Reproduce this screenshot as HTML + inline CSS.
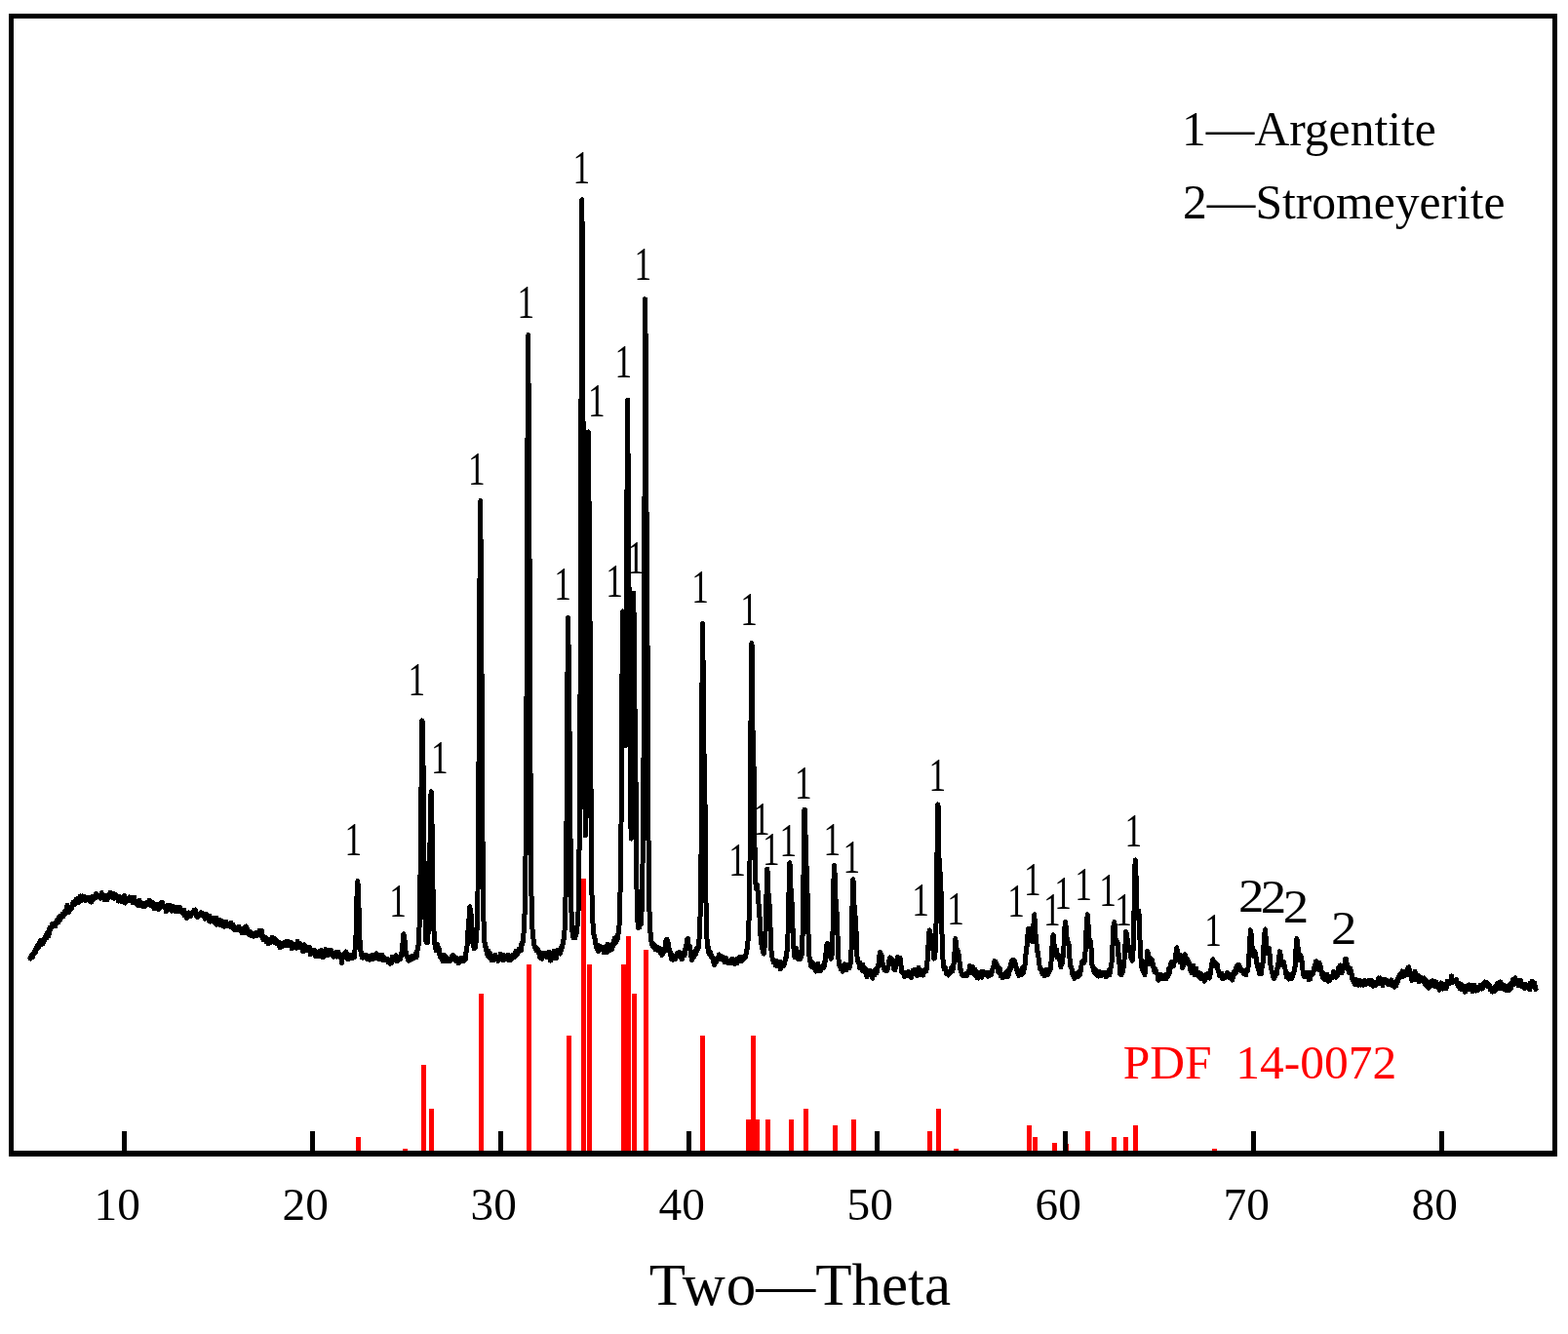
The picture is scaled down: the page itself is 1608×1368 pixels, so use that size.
<!DOCTYPE html>
<html lang="en"><head><meta charset="utf-8"><title>XRD pattern</title>
<style>html,body{margin:0;padding:0;background:#fff;}body{width:1608px;height:1368px;overflow:hidden;}svg{display:block;}text{font-family:"Liberation Serif",serif;white-space:pre;}.lb{font-size:49px;fill:#000;text-anchor:middle;}.tk{font-size:47.3px;fill:#000;text-anchor:middle;}</style></head><body>
<svg width="1608" height="1368" viewBox="0 0 1608 1368">
<rect x="0" y="0" width="1608" height="1368" fill="#fff"/>
<polyline points="31.0,982.4 31.4,983.0 31.8,981.8 32.2,980.2 32.5,980.6 32.9,979.5 33.3,980.5 33.7,981.8 34.1,978.3 34.5,977.2 34.9,977.8 35.2,977.0 35.6,976.2 36.0,974.6 36.4,976.0 36.8,976.5 37.2,972.2 37.6,973.1 37.9,970.5 38.3,970.8 38.7,969.0 39.1,971.8 39.5,969.1 39.9,970.8 40.3,970.3 40.6,969.2 41.0,964.8 41.4,967.9 41.8,968.6 42.2,968.7 42.6,964.8 43.0,966.3 43.4,965.4 43.7,964.9 44.1,967.6 44.5,964.1 44.9,964.3 45.3,964.9 45.7,962.1 46.1,961.1 46.4,961.3 46.8,961.3 47.2,959.3 47.6,960.8 48.0,961.8 48.4,956.4 48.8,959.0 49.1,957.3 49.5,956.2 49.9,959.6 50.3,956.7 50.7,951.5 51.1,953.2 51.5,953.6 51.8,951.1 52.2,952.2 52.6,950.1 53.0,951.4 53.4,951.0 53.8,947.1 54.2,949.7 54.5,948.3 54.9,949.2 55.3,947.3 55.7,947.5 56.1,947.9 56.5,948.8 56.9,949.7 57.2,946.0 57.6,945.8 58.0,947.5 58.4,943.3 58.8,944.7 59.2,944.8 59.6,946.1 59.9,944.3 60.3,942.2 60.7,940.5 61.1,940.6 61.5,943.4 61.9,939.5 62.3,939.7 62.7,941.0 63.0,940.3 63.4,939.6 63.8,937.6 64.2,939.3 64.6,937.5 65.0,939.7 65.4,938.6 65.7,937.0 66.1,937.4 66.5,934.7 66.9,937.2 67.3,934.6 67.7,935.2 68.1,931.9 68.4,933.8 68.8,929.5 69.2,928.3 69.6,931.3 70.0,930.3 70.4,932.0 70.8,935.5 71.1,930.3 71.5,930.9 71.9,931.6 72.3,932.4 72.7,931.1 73.1,930.3 73.5,931.4 73.8,930.1 74.2,927.2 74.6,928.3 75.0,928.1 75.4,925.1 75.8,926.2 76.2,924.6 76.5,927.4 76.9,926.0 77.3,925.9 77.7,924.5 78.1,925.3 78.5,921.9 78.9,923.7 79.2,925.9 79.6,921.6 80.0,925.7 80.4,922.0 80.8,925.4 81.2,923.4 81.6,924.6 82.0,922.2 82.3,919.0 82.7,923.0 83.1,923.8 83.5,921.2 83.9,920.3 84.3,921.0 84.7,918.9 85.0,922.4 85.4,919.9 85.8,922.1 86.2,920.0 86.6,920.1 87.0,919.6 87.4,923.7 87.7,920.7 88.1,922.5 88.5,921.8 88.9,921.7 89.3,920.8 89.7,921.7 90.1,922.7 90.4,921.8 90.8,922.2 91.2,920.6 91.6,920.7 92.0,924.3 92.4,920.8 92.8,920.8 93.1,922.6 93.5,925.1 93.9,919.6 94.3,921.2 94.7,920.3 95.1,919.2 95.5,922.9 95.8,921.6 96.2,921.0 96.6,919.3 97.0,919.4 97.4,918.5 97.8,918.5 98.2,917.3 98.5,916.6 98.9,920.4 99.3,917.3 99.7,918.8 100.1,918.8 100.5,919.0 100.9,918.5 101.3,919.9 101.6,918.8 102.0,919.6 102.4,920.5 102.8,921.1 103.2,919.8 103.6,918.2 104.0,916.2 104.3,915.6 104.7,920.2 105.1,919.9 105.5,918.2 105.9,919.3 106.3,920.5 106.7,921.5 107.0,922.7 107.4,920.1 107.8,922.6 108.2,918.7 108.6,921.9 109.0,921.2 109.4,921.3 109.7,922.9 110.1,922.6 110.5,918.3 110.9,918.1 111.3,920.9 111.7,917.2 112.1,918.2 112.4,918.8 112.8,915.6 113.2,915.4 113.6,917.9 114.0,918.1 114.4,918.3 114.8,919.8 115.1,919.1 115.5,918.2 115.9,920.7 116.3,918.5 116.7,916.7 117.1,921.3 117.5,919.6 117.8,919.7 118.2,917.5 118.6,917.8 119.0,917.9 119.4,919.0 119.8,921.1 120.2,919.5 120.6,920.7 120.9,921.3 121.3,924.1 121.7,919.3 122.1,923.6 122.5,922.0 122.9,921.8 123.3,920.5 123.6,922.4 124.0,924.1 124.4,922.4 124.8,923.3 125.2,922.8 125.6,924.3 126.0,922.7 126.3,919.9 126.7,922.1 127.1,919.8 127.5,918.2 127.9,923.0 128.3,926.1 128.7,923.8 129.0,921.7 129.4,921.9 129.8,923.9 130.2,922.0 130.6,922.2 131.0,922.3 131.4,922.0 131.7,922.7 132.1,922.0 132.5,921.4 132.9,920.0 133.3,923.1 133.7,921.5 134.1,924.1 134.4,920.3 134.8,921.9 135.2,922.1 135.6,920.3 136.0,925.9 136.4,925.3 136.8,922.5 137.1,924.7 137.5,924.7 137.9,920.3 138.3,925.9 138.7,925.7 139.1,926.1 139.5,924.2 139.9,925.3 140.2,925.7 140.6,928.1 141.0,927.1 141.4,926.2 141.8,927.8 142.2,924.6 142.6,925.0 142.9,923.2 143.3,928.6 143.7,927.5 144.1,927.3 144.5,926.4 144.9,925.7 145.3,927.2 145.6,927.2 146.0,927.7 146.4,927.8 146.8,929.9 147.2,928.8 147.6,927.6 148.0,927.1 148.3,926.9 148.7,929.7 149.1,927.4 149.5,926.6 149.9,926.5 150.3,925.9 150.7,926.7 151.0,927.8 151.4,925.1 151.8,925.3 152.2,925.6 152.6,926.4 153.0,923.4 153.4,925.1 153.7,923.7 154.1,926.6 154.5,923.9 154.9,926.3 155.3,928.8 155.7,925.2 156.1,925.2 156.4,927.3 156.8,926.9 157.2,925.7 157.6,928.4 158.0,931.5 158.4,928.6 158.8,928.1 159.2,927.9 159.5,930.1 159.9,927.2 160.3,927.7 160.7,931.5 161.1,928.6 161.5,931.3 161.9,931.9 162.2,930.1 162.6,929.8 163.0,932.5 163.4,928.6 163.8,927.5 164.2,926.5 164.6,927.8 164.9,930.2 165.3,928.6 165.7,925.2 166.1,925.7 166.5,925.5 166.9,927.7 167.3,927.7 167.6,928.8 168.0,930.1 168.4,929.4 168.8,931.0 169.2,931.6 169.6,931.1 170.0,932.6 170.3,934.8 170.7,932.6 171.1,931.7 171.5,929.2 171.9,932.2 172.3,928.1 172.7,928.8 173.0,932.8 173.4,931.7 173.8,930.7 174.2,928.5 174.6,930.0 175.0,929.3 175.4,931.5 175.7,934.3 176.1,931.9 176.5,930.5 176.9,929.5 177.3,930.6 177.7,930.5 178.1,929.6 178.5,932.2 178.8,930.3 179.2,934.2 179.6,933.7 180.0,933.8 180.4,932.5 180.8,934.6 181.2,933.2 181.5,932.9 181.9,932.1 182.3,930.6 182.7,930.5 183.1,934.4 183.5,932.1 183.9,932.3 184.2,933.4 184.6,930.1 185.0,932.0 185.4,934.5 185.8,934.8 186.2,933.4 186.6,935.9 186.9,935.6 187.3,934.0 187.7,934.4 188.1,937.3 188.5,937.1 188.9,933.1 189.3,938.6 189.6,938.5 190.0,939.3 190.4,937.0 190.8,937.9 191.2,936.4 191.6,941.6 192.0,936.7 192.3,939.8 192.7,936.9 193.1,938.3 193.5,936.0 193.9,937.6 194.3,939.5 194.7,936.3 195.0,939.8 195.4,939.9 195.8,937.2 196.2,937.8 196.6,937.1 197.0,937.2 197.4,935.6 197.8,935.2 198.1,935.9 198.5,934.8 198.9,933.3 199.3,935.3 199.7,936.6 200.1,932.9 200.5,936.9 200.8,937.2 201.2,936.7 201.6,939.3 202.0,937.5 202.4,940.4 202.8,937.7 203.2,940.0 203.5,939.0 203.9,937.2 204.3,938.9 204.7,936.8 205.1,939.0 205.5,937.5 205.9,935.9 206.2,937.1 206.6,937.2 207.0,938.9 207.4,936.5 207.8,938.4 208.2,936.6 208.6,940.2 208.9,938.6 209.3,937.3 209.7,940.4 210.1,942.3 210.5,937.6 210.9,938.0 211.3,938.4 211.6,938.1 212.0,941.0 212.4,937.9 212.8,938.9 213.2,941.8 213.6,940.6 214.0,943.7 214.3,941.7 214.7,941.0 215.1,939.4 215.5,945.2 215.9,943.3 216.3,944.0 216.7,942.7 217.1,942.9 217.4,941.4 217.8,944.3 218.2,941.1 218.6,941.8 219.0,942.5 219.4,942.5 219.8,946.1 220.1,946.2 220.5,942.5 220.9,943.2 221.3,945.0 221.7,948.3 222.1,941.1 222.5,946.6 222.8,942.8 223.2,947.2 223.6,944.2 224.0,946.6 224.4,943.5 224.8,945.1 225.2,948.4 225.5,947.2 225.9,945.3 226.3,945.7 226.7,943.9 227.1,946.6 227.5,948.1 227.9,949.0 228.2,948.4 228.6,946.3 229.0,947.3 229.4,947.0 229.8,949.5 230.2,950.2 230.6,946.8 230.9,945.3 231.3,945.8 231.7,945.2 232.1,945.5 232.5,948.1 232.9,946.7 233.3,949.3 233.6,949.0 234.0,949.9 234.4,949.5 234.8,948.9 235.2,948.0 235.6,949.3 236.0,948.6 236.4,950.4 236.7,949.5 237.1,946.5 237.5,949.4 237.9,947.8 238.3,949.7 238.7,950.5 239.1,948.2 239.4,952.0 239.8,952.5 240.2,952.5 240.6,953.4 241.0,953.3 241.4,952.0 241.8,952.6 242.1,952.8 242.5,953.1 242.9,951.0 243.3,953.3 243.7,952.9 244.1,952.4 244.5,951.6 244.8,952.9 245.2,950.5 245.6,953.7 246.0,954.1 246.4,954.6 246.8,954.7 247.2,954.4 247.5,954.4 247.9,956.6 248.3,956.2 248.7,955.2 249.1,953.0 249.5,956.0 249.9,956.7 250.2,956.9 250.6,953.9 251.0,950.7 251.4,953.8 251.8,953.1 252.2,949.9 252.6,954.6 252.9,951.4 253.3,952.4 253.7,953.0 254.1,957.2 254.5,954.3 254.9,956.6 255.3,958.6 255.7,958.9 256.0,957.1 256.4,957.3 256.8,955.4 257.2,956.8 257.6,958.7 258.0,959.5 258.4,958.7 258.7,959.7 259.1,957.1 259.5,958.2 259.9,959.6 260.3,960.3 260.7,960.1 261.1,958.9 261.4,958.7 261.8,959.6 262.2,957.1 262.6,956.5 263.0,960.0 263.4,958.6 263.8,958.8 264.1,956.0 264.5,957.8 264.9,956.8 265.3,956.5 265.7,954.6 266.1,957.0 266.5,958.5 266.8,958.3 267.2,956.6 267.6,958.4 268.0,960.2 268.4,954.3 268.8,958.2 269.2,959.7 269.5,960.9 269.9,963.5 270.3,962.4 270.7,961.7 271.1,961.0 271.5,962.5 271.9,961.0 272.2,962.8 272.6,964.8 273.0,965.9 273.4,962.4 273.8,962.6 274.2,962.7 274.6,965.6 275.0,964.9 275.3,967.9 275.7,963.9 276.1,964.5 276.5,965.2 276.9,966.0 277.3,966.7 277.7,963.0 278.0,963.1 278.4,964.1 278.8,962.8 279.2,961.3 279.6,965.6 280.0,963.9 280.4,964.1 280.7,963.3 281.1,965.9 281.5,964.7 281.9,966.4 282.3,962.7 282.7,963.3 283.1,964.7 283.4,964.0 283.8,967.5 284.2,967.4 284.6,965.2 285.0,966.6 285.4,966.5 285.8,969.7 286.1,966.6 286.5,967.4 286.9,970.3 287.3,971.9 287.7,970.7 288.1,968.2 288.5,968.6 288.8,971.2 289.2,968.1 289.6,967.4 290.0,969.3 290.4,970.2 290.8,968.1 291.2,966.8 291.5,967.0 291.9,970.0 292.3,966.5 292.7,966.8 293.1,966.9 293.5,967.5 293.9,965.2 294.3,966.6 294.6,965.3 295.0,966.0 295.4,965.2 295.8,969.4 296.2,967.3 296.6,966.0 297.0,967.3 297.3,968.4 297.7,970.1 298.1,966.1 298.5,966.7 298.9,968.1 299.3,972.6 299.7,970.8 300.0,969.7 300.4,970.2 300.8,971.6 301.2,968.0 301.6,968.2 302.0,970.8 302.4,969.5 302.7,969.3 303.1,968.1 303.5,971.8 303.9,972.1 304.3,970.0 304.7,969.3 305.1,965.1 305.4,970.3 305.8,969.0 306.2,970.0 306.6,970.6 307.0,969.4 307.4,967.2 307.8,971.6 308.1,970.6 308.5,971.6 308.9,971.2 309.3,972.0 309.7,969.2 310.1,974.5 310.5,972.6 310.8,973.9 311.2,975.5 311.6,971.7 312.0,968.9 312.4,970.2 312.8,970.0 313.2,971.5 313.6,972.8 313.9,970.8 314.3,974.8 314.7,971.5 315.1,975.0 315.5,974.9 315.9,975.0 316.3,975.1 316.6,974.1 317.0,973.6 317.4,971.5 317.8,974.5 318.2,978.7 318.6,978.3 319.0,977.0 319.3,975.9 319.7,974.0 320.1,977.5 320.5,975.4 320.9,975.5 321.3,975.6 321.7,974.6 322.0,975.3 322.4,975.3 322.8,974.3 323.2,976.1 323.6,980.9 324.0,977.8 324.4,978.1 324.7,979.0 325.1,979.6 325.5,976.5 325.9,978.4 326.3,980.5 326.7,978.4 327.1,977.6 327.4,980.1 327.8,975.6 328.2,976.7 328.6,977.1 329.0,980.6 329.4,974.5 329.8,976.3 330.1,977.9 330.5,980.2 330.9,979.9 331.3,981.8 331.7,976.9 332.1,979.4 332.5,977.5 332.9,977.4 333.2,979.5 333.6,976.6 334.0,973.5 334.4,975.9 334.8,974.1 335.2,976.0 335.6,977.9 335.9,977.2 336.3,979.8 336.7,976.0 337.1,974.4 337.5,976.6 337.9,976.1 338.3,976.2 338.6,977.7 339.0,975.7 339.4,974.3 339.8,977.8 340.2,977.2 340.6,977.7 341.0,977.3 341.3,979.7 341.7,978.2 342.1,981.2 342.5,979.9 342.9,979.5 343.3,980.0 343.7,977.1 344.0,979.3 344.4,979.1 344.8,979.3 345.2,976.3 345.6,981.1 346.0,979.1 346.4,977.1 346.7,976.1 347.1,977.9 347.5,977.9 347.9,978.0 348.3,979.3 348.7,979.4 349.1,981.5 349.4,980.1 349.8,981.9 350.2,984.0 350.6,987.8 351.0,982.5 351.4,982.7 351.8,981.8 352.2,982.3 352.5,978.7 352.9,979.3 353.3,980.0 353.7,977.8 354.1,977.3 354.5,978.7 354.9,975.9 355.2,977.6 355.6,981.5 356.0,983.2 356.4,982.2 356.8,980.0 357.2,982.2 357.6,983.5 357.9,982.6 358.3,981.5 358.7,980.0 359.1,981.9 359.5,980.3 359.9,979.9 360.3,979.4 360.6,982.8 361.0,981.3 361.4,982.3 361.8,980.9 362.2,982.2 362.6,978.8 363.0,978.8 363.3,982.0 363.7,978.1 364.1,973.2 364.5,968.9 364.9,962.4 365.3,951.8 365.7,935.5 366.0,919.4 366.4,908.4 366.8,903.6 367.2,907.5 367.6,919.4 368.0,930.7 368.4,945.7 368.7,954.9 369.1,967.2 369.5,974.6 369.9,975.1 370.3,975.7 370.7,978.6 371.1,982.0 371.5,978.7 371.8,981.1 372.2,982.4 372.6,981.8 373.0,980.1 373.4,981.3 373.8,980.5 374.2,980.9 374.5,981.1 374.9,979.3 375.3,980.9 375.7,982.4 376.1,980.5 376.5,981.7 376.9,983.4 377.2,980.7 377.6,982.1 378.0,980.0 378.4,983.2 378.8,984.2 379.2,984.2 379.6,980.6 379.9,982.0 380.3,980.9 380.7,981.1 381.1,983.7 381.5,979.2 381.9,983.1 382.3,982.3 382.6,983.8 383.0,982.5 383.4,980.4 383.8,981.5 384.2,982.7 384.6,981.6 385.0,982.1 385.3,981.0 385.7,977.7 386.1,982.8 386.5,981.2 386.9,981.0 387.3,981.1 387.7,982.5 388.0,980.6 388.4,980.2 388.8,981.6 389.2,984.0 389.6,979.1 390.0,983.1 390.4,981.1 390.8,980.7 391.1,983.9 391.5,981.1 391.9,979.2 392.3,980.6 392.7,982.9 393.1,985.0 393.5,983.4 393.8,983.1 394.2,984.0 394.6,982.1 395.0,983.9 395.4,984.5 395.8,983.0 396.2,983.7 396.5,983.8 396.9,983.5 397.3,983.8 397.7,983.4 398.1,986.5 398.5,985.6 398.9,986.0 399.2,986.8 399.6,985.6 400.0,988.1 400.4,984.0 400.8,986.2 401.2,985.0 401.6,987.4 401.9,986.8 402.3,981.2 402.7,982.1 403.1,984.3 403.5,984.4 403.9,984.2 404.3,982.7 404.6,983.4 405.0,984.8 405.4,983.7 405.8,984.6 406.2,979.8 406.6,984.9 407.0,982.3 407.3,985.6 407.7,984.3 408.1,983.1 408.5,984.3 408.9,981.8 409.3,982.2 409.7,981.0 410.1,983.0 410.4,983.8 410.8,983.4 411.2,980.4 411.6,980.7 412.0,976.1 412.4,972.6 412.8,969.6 413.1,966.1 413.5,959.6 413.9,957.9 414.3,959.2 414.7,962.6 415.1,964.4 415.5,971.4 415.8,973.3 416.2,977.4 416.6,978.0 417.0,980.8 417.4,981.4 417.8,980.8 418.2,984.4 418.5,981.8 418.9,985.4 419.3,984.3 419.7,982.6 420.1,982.7 420.5,983.8 420.9,984.0 421.2,984.2 421.6,984.1 422.0,981.2 422.4,983.3 422.8,980.1 423.2,983.4 423.6,982.0 423.9,982.4 424.3,982.1 424.7,982.4 425.1,979.4 425.5,979.3 425.9,979.9 426.3,978.1 426.6,980.1 427.0,981.8 427.4,976.2 427.8,977.5 428.2,972.8 428.6,973.6 429.0,969.6 429.4,965.0 429.7,958.4 430.1,949.3 430.5,930.6 430.9,906.9 431.3,874.5 431.7,839.5 432.1,799.3 432.4,764.0 432.8,738.9 433.2,740.5 433.6,752.4 434.0,783.5 434.4,821.2 434.8,858.3 435.1,893.6 435.5,921.8 435.9,939.1 436.3,952.8 436.7,963.5 437.1,966.4 437.5,964.9 437.8,966.3 438.2,966.9 438.6,966.5 439.0,958.0 439.4,949.7 439.8,939.8 440.2,922.1 440.5,897.2 440.9,872.0 441.3,845.2 441.7,823.9 442.1,811.8 442.5,822.1 442.9,836.4 443.2,858.5 443.6,886.0 444.0,911.1 444.4,928.3 444.8,948.1 445.2,960.1 445.6,963.7 445.9,968.1 446.3,970.3 446.7,970.0 447.1,975.0 447.5,968.0 447.9,970.0 448.3,969.7 448.7,968.5 449.0,970.0 449.4,971.1 449.8,972.8 450.2,976.9 450.6,973.4 451.0,979.5 451.4,979.5 451.7,981.9 452.1,981.8 452.5,980.2 452.9,981.6 453.3,983.9 453.7,983.2 454.1,981.4 454.4,985.9 454.8,985.9 455.2,979.0 455.6,981.8 456.0,985.0 456.4,982.4 456.8,981.4 457.1,980.9 457.5,980.9 457.9,981.8 458.3,982.1 458.7,985.9 459.1,984.1 459.5,984.8 459.8,983.0 460.2,985.4 460.6,984.3 461.0,985.2 461.4,985.7 461.8,983.9 462.2,982.7 462.5,982.6 462.9,981.4 463.3,980.9 463.7,980.4 464.1,982.0 464.5,979.3 464.9,983.3 465.2,981.8 465.6,981.1 466.0,981.5 466.4,981.9 466.8,984.2 467.2,983.1 467.6,985.6 468.0,984.0 468.3,982.6 468.7,984.8 469.1,982.8 469.5,986.7 469.9,987.7 470.3,986.8 470.7,983.3 471.0,984.0 471.4,986.9 471.8,983.1 472.2,982.5 472.6,983.2 473.0,985.8 473.4,984.8 473.7,983.2 474.1,983.5 474.5,984.5 474.9,983.0 475.3,983.2 475.7,985.3 476.1,983.8 476.4,983.9 476.8,982.7 477.2,984.4 477.6,977.7 478.0,977.1 478.4,974.8 478.8,971.8 479.1,969.3 479.5,963.2 479.9,956.6 480.3,949.0 480.7,944.0 481.1,941.1 481.5,935.1 481.8,929.8 482.2,931.6 482.6,933.1 483.0,937.5 483.4,941.9 483.8,948.9 484.2,952.7 484.5,958.8 484.9,967.8 485.3,965.4 485.7,969.8 486.1,972.6 486.5,971.9 486.9,971.0 487.3,971.9 487.6,970.4 488.0,967.6 488.4,961.0 488.8,958.6 489.2,950.3 489.6,937.1 490.0,915.5 490.3,880.2 490.7,831.5 491.1,769.3 491.5,701.3 491.9,616.9 492.3,538.1 492.7,513.5 493.0,549.7 493.4,603.7 493.8,657.9 494.2,720.9 494.6,798.5 495.0,861.3 495.4,906.8 495.7,931.6 496.1,949.1 496.5,958.8 496.9,965.4 497.3,969.6 497.7,968.9 498.1,971.0 498.4,971.3 498.8,974.8 499.2,974.9 499.6,977.0 500.0,980.2 500.4,977.1 500.8,975.1 501.1,977.9 501.5,976.4 501.9,978.2 502.3,982.4 502.7,981.2 503.1,978.4 503.5,982.8 503.8,984.5 504.2,981.3 504.6,980.6 505.0,981.9 505.4,982.6 505.8,983.2 506.2,984.0 506.6,984.7 506.9,983.1 507.3,983.1 507.7,982.5 508.1,979.2 508.5,981.8 508.9,982.8 509.3,981.4 509.6,983.8 510.0,981.5 510.4,981.5 510.8,985.4 511.2,984.5 511.6,984.2 512.0,984.3 512.3,984.2 512.7,983.1 513.1,978.3 513.5,981.1 513.9,980.8 514.3,980.6 514.7,982.0 515.0,983.1 515.4,981.7 515.8,979.9 516.2,984.7 516.6,981.2 517.0,979.6 517.4,981.7 517.7,981.6 518.1,980.3 518.5,983.1 518.9,980.0 519.3,979.9 519.7,981.5 520.1,981.9 520.4,979.6 520.8,980.3 521.2,979.9 521.6,984.9 522.0,979.5 522.4,983.4 522.8,980.6 523.1,981.2 523.5,982.3 523.9,982.6 524.3,984.4 524.7,982.1 525.1,980.2 525.5,979.6 525.9,980.6 526.2,980.7 526.6,981.4 527.0,979.9 527.4,981.3 527.8,981.7 528.2,979.3 528.6,976.0 528.9,976.1 529.3,975.1 529.7,979.6 530.1,975.4 530.5,978.5 530.9,976.1 531.3,976.9 531.6,976.3 532.0,973.9 532.4,973.0 532.8,974.2 533.2,974.9 533.6,972.4 534.0,972.0 534.3,974.7 534.7,968.2 535.1,969.8 535.5,966.9 535.9,967.5 536.3,964.7 536.7,959.0 537.0,957.0 537.4,949.4 537.8,945.8 538.2,930.5 538.6,912.4 539.0,880.0 539.4,828.5 539.7,770.6 540.1,698.6 540.5,606.2 540.9,482.4 541.3,372.4 541.7,343.6 542.1,406.4 542.4,479.0 542.8,535.2 543.2,606.7 543.6,698.9 544.0,793.2 544.4,864.4 544.8,905.4 545.2,931.1 545.5,944.7 545.9,950.8 546.3,959.5 546.7,959.2 547.1,964.4 547.5,967.6 547.9,969.9 548.2,969.9 548.6,971.9 549.0,970.7 549.4,971.8 549.8,974.5 550.2,973.5 550.6,972.5 550.9,972.8 551.3,974.8 551.7,973.9 552.1,976.0 552.5,975.9 552.9,978.1 553.3,978.6 553.6,982.2 554.0,977.4 554.4,978.8 554.8,981.9 555.2,980.0 555.6,979.7 556.0,983.3 556.3,979.9 556.7,979.2 557.1,978.2 557.5,979.7 557.9,980.0 558.3,977.2 558.7,978.7 559.0,980.4 559.4,980.2 559.8,978.3 560.2,981.0 560.6,981.7 561.0,978.5 561.4,981.0 561.7,981.9 562.1,978.7 562.5,976.6 562.9,979.6 563.3,981.5 563.7,982.2 564.1,976.8 564.5,985.2 564.8,979.7 565.2,982.2 565.6,983.1 566.0,982.7 566.4,980.8 566.8,978.5 567.2,980.6 567.5,978.5 567.9,975.3 568.3,983.0 568.7,980.2 569.1,981.9 569.5,976.9 569.9,981.3 570.2,981.4 570.6,982.5 571.0,978.8 571.4,975.9 571.8,977.7 572.2,974.2 572.6,975.1 572.9,977.7 573.3,974.5 573.7,976.0 574.1,974.6 574.5,978.1 574.9,976.4 575.3,972.4 575.6,973.9 576.0,970.1 576.4,970.2 576.8,971.6 577.2,967.2 577.6,967.2 578.0,963.0 578.3,962.9 578.7,962.0 579.1,952.3 579.5,943.2 579.9,926.0 580.3,904.2 580.7,874.0 581.0,842.7 581.4,795.7 581.8,727.3 582.2,659.4 582.6,633.5 583.0,659.1 583.4,702.7 583.8,731.5 584.1,758.3 584.5,800.9 584.9,848.3 585.3,891.4 585.7,918.7 586.1,939.7 586.5,947.5 586.8,955.1 587.2,955.9 587.6,959.6 588.0,961.5 588.4,958.8 588.8,960.1 589.2,959.3 589.5,961.3 589.9,961.9 590.3,958.7 590.7,956.5 591.1,957.8 591.5,950.4 591.9,953.5 592.2,945.5 592.6,936.1 593.0,935.4 593.4,918.8 593.8,890.5 594.2,855.5 594.6,802.5 594.9,737.7 595.3,651.2 595.7,533.3 596.1,379.4 596.5,236.4 596.9,204.8 597.3,281.0 597.6,374.9 598.0,429.5 598.4,487.4 598.8,576.7 599.2,685.5 599.6,776.3 600.0,829.5 600.3,857.0 600.7,854.6 601.1,835.1 601.5,804.6 601.9,759.9 602.3,693.8 602.7,598.6 603.1,495.9 603.4,442.9 603.8,476.9 604.2,547.4 604.6,598.0 605.0,634.0 605.4,689.1 605.8,760.1 606.1,829.3 606.5,880.8 606.9,912.5 607.3,931.9 607.7,942.5 608.1,948.1 608.5,952.5 608.8,958.2 609.2,958.6 609.6,961.6 610.0,962.1 610.4,967.6 610.8,966.7 611.2,970.5 611.5,970.9 611.9,972.8 612.3,970.8 612.7,972.8 613.1,975.3 613.5,969.4 613.9,974.0 614.2,975.3 614.6,972.7 615.0,972.9 615.4,973.7 615.8,970.7 616.2,973.2 616.6,971.9 616.9,972.4 617.3,971.8 617.7,972.0 618.1,973.2 618.5,974.4 618.9,971.8 619.3,977.0 619.6,974.7 620.0,974.2 620.4,972.3 620.8,972.8 621.2,974.4 621.6,973.6 622.0,969.6 622.4,972.8 622.7,976.4 623.1,968.5 623.5,973.5 623.9,972.0 624.3,971.2 624.7,973.8 625.1,969.8 625.4,971.3 625.8,974.6 626.2,971.0 626.6,971.2 627.0,971.7 627.4,969.5 627.8,973.3 628.1,968.5 628.5,970.7 628.9,966.9 629.3,968.9 629.7,967.3 630.1,962.4 630.5,965.5 630.8,963.8 631.2,964.5 631.6,966.6 632.0,961.3 632.4,960.8 632.8,963.7 633.2,961.1 633.5,962.7 633.9,958.8 634.3,954.5 634.7,951.2 635.1,948.0 635.5,938.5 635.9,922.7 636.2,902.6 636.6,878.5 637.0,845.8 637.4,801.9 637.8,731.4 638.2,659.1 638.6,626.9 638.9,651.8 639.3,692.7 639.7,716.1 640.1,720.5 640.5,732.1 640.9,750.3 641.3,764.5 641.7,763.9 642.0,731.9 642.4,666.8 642.8,564.1 643.2,454.5 643.6,410.1 644.0,462.0 644.4,534.0 644.7,581.2 645.1,608.1 645.5,650.0 645.9,716.1 646.3,785.0 646.7,833.2 647.1,854.5 647.4,860.2 647.8,848.0 648.2,821.8 648.6,774.6 649.0,708.9 649.4,638.3 649.8,608.3 650.1,636.2 650.5,690.0 650.9,721.1 651.3,740.3 651.7,768.6 652.1,810.2 652.5,859.5 652.8,900.4 653.2,923.0 653.6,937.6 654.0,946.1 654.4,951.5 654.8,948.0 655.2,950.8 655.5,951.2 655.9,949.3 656.3,949.1 656.7,947.9 657.1,948.1 657.5,943.1 657.9,938.6 658.2,928.9 658.6,910.8 659.0,887.0 659.4,856.3 659.8,810.0 660.2,749.4 660.6,657.0 661.0,521.2 661.3,378.8 661.7,306.8 662.1,351.0 662.5,447.9 662.9,517.0 663.3,545.7 663.7,585.8 664.0,662.3 664.4,755.0 664.8,832.4 665.2,889.9 665.6,917.2 666.0,935.0 666.4,945.7 666.7,952.2 667.1,957.7 667.5,960.4 667.9,965.9 668.3,965.8 668.7,968.9 669.1,968.7 669.4,970.4 669.8,968.0 670.2,971.5 670.6,971.6 671.0,971.4 671.4,968.7 671.8,973.6 672.1,972.1 672.5,973.2 672.9,973.0 673.3,973.6 673.7,974.0 674.1,971.4 674.5,972.6 674.8,974.0 675.2,973.4 675.6,972.8 676.0,972.1 676.4,972.5 676.8,973.4 677.2,977.3 677.5,974.2 677.9,978.2 678.3,978.8 678.7,977.9 679.1,979.5 679.5,976.3 679.9,975.8 680.3,976.8 680.6,976.9 681.0,975.9 681.4,975.3 681.8,974.2 682.2,968.2 682.6,969.9 683.0,964.5 683.3,963.7 683.7,963.5 684.1,963.3 684.5,964.7 684.9,965.4 685.3,968.3 685.7,971.5 686.0,973.8 686.4,973.4 686.8,975.5 687.2,976.7 687.6,980.0 688.0,976.5 688.4,983.4 688.7,981.3 689.1,980.9 689.5,983.2 689.9,984.1 690.3,982.5 690.7,983.8 691.1,981.9 691.4,983.9 691.8,983.3 692.2,981.0 692.6,983.4 693.0,980.3 693.4,980.0 693.8,979.1 694.1,979.3 694.5,980.6 694.9,977.0 695.3,979.8 695.7,979.0 696.1,979.1 696.5,976.4 696.8,980.0 697.2,981.4 697.6,980.0 698.0,982.1 698.4,978.3 698.8,983.6 699.2,981.5 699.6,983.4 699.9,978.1 700.3,981.2 700.7,979.0 701.1,979.4 701.5,976.0 701.9,976.1 702.3,979.6 702.6,973.7 703.0,972.8 703.4,971.6 703.8,968.4 704.2,969.0 704.6,967.9 705.0,962.7 705.3,962.5 705.7,967.4 706.1,968.4 706.5,969.2 706.9,970.9 707.3,969.9 707.7,973.9 708.0,974.5 708.4,977.1 708.8,981.0 709.2,979.4 709.6,984.4 710.0,980.4 710.4,979.1 710.7,980.3 711.1,982.1 711.5,979.5 711.9,975.9 712.3,977.8 712.7,979.7 713.1,976.2 713.4,975.5 713.8,978.0 714.2,976.0 714.6,972.1 715.0,972.8 715.4,972.1 715.8,973.2 716.1,971.8 716.5,970.9 716.9,966.1 717.3,955.9 717.7,950.1 718.1,937.4 718.5,919.7 718.9,895.5 719.2,849.4 719.6,780.8 720.0,701.6 720.4,639.6 720.8,646.5 721.2,705.7 721.6,752.6 721.9,773.9 722.3,774.3 722.7,791.9 723.1,833.7 723.5,881.6 723.9,919.8 724.3,939.9 724.6,958.8 725.0,962.9 725.4,966.0 725.8,971.9 726.2,972.1 726.6,971.9 727.0,978.2 727.3,975.4 727.7,977.7 728.1,978.0 728.5,979.9 728.9,977.2 729.3,980.8 729.7,979.3 730.0,982.3 730.4,981.0 730.8,982.0 731.2,986.2 731.6,984.2 732.0,985.1 732.4,989.6 732.7,986.2 733.1,984.3 733.5,986.9 733.9,983.6 734.3,986.5 734.7,986.4 735.1,983.5 735.4,982.8 735.8,983.1 736.2,983.1 736.6,981.3 737.0,983.6 737.4,978.8 737.8,981.6 738.2,981.5 738.5,981.2 738.9,981.8 739.3,980.2 739.7,982.8 740.1,982.0 740.5,981.3 740.9,981.3 741.2,982.6 741.6,984.7 742.0,983.1 742.4,984.9 742.8,986.5 743.2,986.3 743.6,986.7 743.9,984.6 744.3,982.4 744.7,985.4 745.1,984.7 745.5,986.2 745.9,985.3 746.3,987.5 746.6,987.7 747.0,986.5 747.4,985.6 747.8,985.9 748.2,986.7 748.6,986.8 749.0,987.4 749.3,984.7 749.7,987.7 750.1,983.6 750.5,986.4 750.9,985.0 751.3,984.8 751.7,987.8 752.0,983.7 752.4,984.0 752.8,984.1 753.2,984.9 753.6,988.9 754.0,986.7 754.4,987.5 754.7,984.3 755.1,986.1 755.5,987.0 755.9,987.7 756.3,983.4 756.7,985.9 757.1,986.3 757.5,983.4 757.8,984.7 758.2,984.0 758.6,981.3 759.0,986.0 759.4,985.7 759.8,984.6 760.2,982.0 760.5,985.5 760.9,983.6 761.3,984.5 761.7,984.7 762.1,981.0 762.5,982.8 762.9,980.8 763.2,981.1 763.6,981.3 764.0,981.0 764.4,982.1 764.8,979.0 765.2,978.0 765.6,975.6 765.9,974.9 766.3,970.5 766.7,968.1 767.1,964.2 767.5,956.6 767.9,948.4 768.3,934.8 768.6,917.4 769.0,884.6 769.4,835.8 769.8,773.6 770.2,711.3 770.6,662.3 771.0,659.5 771.3,691.6 771.7,729.3 772.1,755.1 772.5,764.1 772.9,780.2 773.3,801.1 773.7,837.6 774.0,867.2 774.4,894.1 774.8,904.4 775.2,909.7 775.6,911.8 776.0,911.3 776.4,907.5 776.8,911.6 777.1,913.6 777.5,920.3 777.9,926.0 778.3,930.2 778.7,935.0 779.1,942.2 779.5,948.5 779.8,956.4 780.2,962.4 780.6,961.7 781.0,968.4 781.4,970.0 781.8,973.7 782.2,973.8 782.5,976.3 782.9,975.6 783.3,978.1 783.7,974.7 784.1,971.2 784.5,967.9 784.9,960.4 785.2,947.3 785.6,936.1 786.0,917.3 786.4,898.7 786.8,891.0 787.2,895.6 787.6,902.4 787.9,913.4 788.3,923.3 788.7,927.0 789.1,927.9 789.5,936.1 789.9,947.9 790.3,959.0 790.6,965.3 791.0,974.8 791.4,976.7 791.8,979.0 792.2,984.5 792.6,983.8 793.0,985.4 793.3,987.0 793.7,987.3 794.1,987.2 794.5,986.7 794.9,985.4 795.3,990.1 795.7,988.5 796.1,985.2 796.4,987.1 796.8,989.3 797.2,989.2 797.6,990.2 798.0,990.8 798.4,987.1 798.8,988.2 799.1,986.5 799.5,989.6 799.9,989.8 800.3,993.8 800.7,989.4 801.1,986.8 801.5,988.5 801.8,991.1 802.2,988.3 802.6,989.2 803.0,989.6 803.4,990.4 803.8,988.7 804.2,987.5 804.5,988.7 804.9,985.4 805.3,984.3 805.7,981.7 806.1,981.7 806.5,982.0 806.9,976.1 807.2,974.8 807.6,969.6 808.0,958.3 808.4,944.9 808.8,923.3 809.2,907.4 809.6,890.3 809.9,884.7 810.3,888.9 810.7,901.9 811.1,914.1 811.5,921.2 811.9,923.3 812.3,931.0 812.6,938.5 813.0,951.3 813.4,961.8 813.8,971.0 814.2,973.6 814.6,980.5 815.0,981.9 815.4,977.6 815.7,977.1 816.1,978.3 816.5,975.5 816.9,972.5 817.3,977.7 817.7,977.4 818.1,978.2 818.4,983.4 818.8,981.0 819.2,980.0 819.6,982.3 820.0,981.2 820.4,983.0 820.8,983.6 821.1,981.4 821.5,980.0 821.9,981.3 822.3,975.5 822.7,968.6 823.1,957.0 823.5,938.8 823.8,913.8 824.2,881.8 824.6,853.8 825.0,829.9 825.4,830.5 825.8,845.7 826.2,865.5 826.5,879.0 826.9,887.0 827.3,889.6 827.7,902.0 828.1,919.4 828.5,936.7 828.9,952.6 829.2,965.5 829.6,971.1 830.0,980.7 830.4,983.5 830.8,985.6 831.2,986.8 831.6,985.8 831.9,991.2 832.3,986.0 832.7,992.0 833.1,990.6 833.5,988.4 833.9,988.4 834.3,991.7 834.7,992.7 835.0,989.4 835.4,991.7 835.8,994.1 836.2,993.4 836.6,996.2 837.0,992.1 837.4,993.9 837.7,991.3 838.1,995.8 838.5,991.6 838.9,988.3 839.3,991.6 839.7,991.3 840.1,994.3 840.4,991.3 840.8,991.4 841.2,993.0 841.6,995.3 842.0,992.1 842.4,993.9 842.8,992.9 843.1,991.3 843.5,992.0 843.9,992.0 844.3,990.3 844.7,992.3 845.1,987.5 845.5,990.6 845.8,988.7 846.2,985.0 846.6,980.6 847.0,977.0 847.4,972.8 847.8,969.6 848.2,967.8 848.5,968.4 848.9,967.6 849.3,970.7 849.7,968.6 850.1,972.6 850.5,973.9 850.9,976.1 851.2,980.8 851.6,982.2 852.0,979.3 852.4,983.3 852.8,980.1 853.2,979.5 853.6,973.9 854.0,955.1 854.3,937.7 854.7,915.8 855.1,896.9 855.5,887.4 855.9,892.9 856.3,900.5 856.7,918.0 857.0,921.6 857.4,927.7 857.8,931.8 858.2,938.6 858.6,947.1 859.0,959.2 859.4,970.1 859.7,978.6 860.1,985.2 860.5,985.5 860.9,990.0 861.3,991.3 861.7,991.8 862.1,992.1 862.4,994.2 862.8,993.1 863.2,994.4 863.6,994.2 864.0,996.2 864.4,990.0 864.8,994.4 865.1,992.4 865.5,992.1 865.9,990.7 866.3,988.7 866.7,991.3 867.1,990.5 867.5,992.5 867.8,989.7 868.2,994.8 868.6,992.2 869.0,992.1 869.4,991.7 869.8,992.1 870.2,991.7 870.5,992.7 870.9,992.8 871.3,991.6 871.7,988.6 872.1,988.2 872.5,982.0 872.9,976.8 873.3,966.9 873.6,948.7 874.0,929.1 874.4,910.2 874.8,901.7 875.2,904.7 875.6,919.4 876.0,927.8 876.3,935.1 876.7,937.2 877.1,939.6 877.5,946.6 877.9,951.6 878.3,963.0 878.7,971.2 879.0,981.2 879.4,983.3 879.8,985.8 880.2,986.3 880.6,986.5 881.0,988.7 881.4,992.4 881.7,987.1 882.1,991.5 882.5,990.8 882.9,989.5 883.3,990.6 883.7,990.7 884.1,990.4 884.4,995.3 884.8,989.2 885.2,992.5 885.6,992.8 886.0,991.8 886.4,992.7 886.8,995.9 887.1,996.0 887.5,996.8 887.9,998.0 888.3,994.2 888.7,1001.2 889.1,1001.7 889.5,999.5 889.8,1000.3 890.2,995.2 890.6,997.8 891.0,996.2 891.4,996.0 891.8,998.9 892.2,995.7 892.6,997.8 892.9,995.7 893.3,999.5 893.7,1000.0 894.1,998.2 894.5,999.1 894.9,1003.4 895.3,998.2 895.6,998.0 896.0,997.6 896.4,1000.0 896.8,1000.1 897.2,996.7 897.6,994.9 898.0,994.0 898.3,997.0 898.7,994.1 899.1,997.6 899.5,996.5 899.9,992.8 900.3,992.0 900.7,990.0 901.0,988.1 901.4,981.1 901.8,981.6 902.2,977.0 902.6,976.3 903.0,978.4 903.4,979.4 903.7,979.3 904.1,979.2 904.5,981.0 904.9,986.9 905.3,989.1 905.7,990.0 906.1,991.7 906.4,991.7 906.8,994.2 907.2,994.8 907.6,993.0 908.0,994.1 908.4,995.2 908.8,994.3 909.1,992.7 909.5,995.4 909.9,993.7 910.3,994.0 910.7,991.8 911.1,990.4 911.5,988.6 911.9,985.3 912.2,983.0 912.6,981.9 913.0,983.3 913.4,984.2 913.8,986.0 914.2,983.0 914.6,985.2 914.9,986.4 915.3,989.1 915.7,988.3 916.1,989.5 916.5,993.3 916.9,992.8 917.3,992.4 917.6,995.0 918.0,994.3 918.4,990.2 918.8,990.5 919.2,986.1 919.6,986.4 920.0,982.9 920.3,981.5 920.7,981.8 921.1,982.2 921.5,985.2 921.9,985.2 922.3,986.0 922.7,986.0 923.0,981.9 923.4,988.9 923.8,986.8 924.2,992.6 924.6,996.8 925.0,995.9 925.4,996.7 925.7,998.0 926.1,998.6 926.5,998.6 926.9,999.4 927.3,998.9 927.7,1001.7 928.1,998.8 928.4,1000.4 928.8,997.9 929.2,998.3 929.6,998.7 930.0,999.9 930.4,999.3 930.8,998.5 931.2,996.5 931.5,996.2 931.9,1000.6 932.3,998.8 932.7,998.7 933.1,1000.4 933.5,1000.3 933.9,999.1 934.2,997.3 934.6,1002.9 935.0,1000.4 935.4,999.5 935.8,996.7 936.2,994.9 936.6,995.5 936.9,997.6 937.3,998.7 937.7,997.8 938.1,994.9 938.5,994.5 938.9,996.5 939.3,995.0 939.6,997.8 940.0,998.3 940.4,1000.8 940.8,997.9 941.2,995.7 941.6,996.5 942.0,991.9 942.3,996.3 942.7,996.6 943.1,998.4 943.5,998.0 943.9,999.6 944.3,998.1 944.7,998.4 945.0,999.3 945.4,995.6 945.8,996.4 946.2,995.7 946.6,1000.1 947.0,999.0 947.4,997.0 947.7,994.9 948.1,997.2 948.5,995.9 948.9,995.9 949.3,995.6 949.7,995.9 950.1,993.3 950.5,993.3 950.8,989.1 951.2,982.6 951.6,976.3 952.0,969.1 952.4,963.7 952.8,956.0 953.2,953.9 953.5,953.9 953.9,955.3 954.3,962.0 954.7,961.7 955.1,966.4 955.5,966.6 955.9,965.1 956.2,967.8 956.6,971.8 957.0,974.7 957.4,977.7 957.8,983.1 958.2,982.3 958.6,982.8 958.9,978.5 959.3,972.4 959.7,960.3 960.1,943.0 960.5,918.2 960.9,883.8 961.3,848.9 961.6,824.9 962.0,825.6 962.4,845.8 962.8,870.3 963.2,888.4 963.6,899.0 964.0,901.3 964.3,894.8 964.7,901.8 965.1,917.5 965.5,932.4 965.9,954.4 966.3,967.8 966.7,980.4 967.0,984.1 967.4,987.1 967.8,991.4 968.2,993.5 968.6,992.7 969.0,993.8 969.4,992.2 969.8,994.4 970.1,996.7 970.5,998.9 970.9,998.0 971.3,996.6 971.7,998.1 972.1,998.5 972.5,1000.0 972.8,999.0 973.2,996.8 973.6,997.5 974.0,997.4 974.4,997.4 974.8,997.7 975.2,995.6 975.5,992.7 975.9,995.1 976.3,993.2 976.7,996.0 977.1,994.1 977.5,989.7 977.9,990.3 978.2,985.9 978.6,979.7 979.0,976.6 979.4,971.9 979.8,962.6 980.2,965.6 980.6,967.6 980.9,970.7 981.3,974.9 981.7,974.8 982.1,975.5 982.5,975.7 982.9,977.0 983.3,980.7 983.6,982.3 984.0,986.4 984.4,992.2 984.8,993.2 985.2,996.1 985.6,994.2 986.0,996.8 986.3,998.3 986.7,1000.0 987.1,998.7 987.5,1000.8 987.9,999.7 988.3,1000.0 988.7,999.5 989.1,1000.7 989.4,999.0 989.8,1000.4 990.2,999.3 990.6,999.2 991.0,999.5 991.4,1000.4 991.8,1000.5 992.1,999.6 992.5,997.6 992.9,998.3 993.3,996.0 993.7,997.4 994.1,994.8 994.5,990.6 994.8,995.2 995.2,992.8 995.6,991.3 996.0,993.2 996.4,992.1 996.8,997.7 997.2,994.8 997.5,991.6 997.9,995.6 998.3,994.2 998.7,999.1 999.1,994.6 999.5,993.9 999.9,998.8 1000.2,998.2 1000.6,998.9 1001.0,995.7 1001.4,1000.0 1001.8,1002.5 1002.2,997.0 1002.6,1001.8 1002.9,998.9 1003.3,1003.1 1003.7,1000.3 1004.1,999.5 1004.5,1001.5 1004.9,999.5 1005.3,997.7 1005.6,1000.0 1006.0,998.6 1006.4,996.6 1006.8,1002.3 1007.2,998.4 1007.6,997.8 1008.0,999.4 1008.4,996.2 1008.7,996.3 1009.1,997.2 1009.5,997.1 1009.9,998.3 1010.3,999.7 1010.7,997.6 1011.1,999.5 1011.4,999.8 1011.8,997.4 1012.2,999.2 1012.6,998.0 1013.0,1001.4 1013.4,999.9 1013.8,999.3 1014.1,997.1 1014.5,999.0 1014.9,997.7 1015.3,1000.2 1015.7,999.0 1016.1,997.2 1016.5,999.7 1016.8,998.3 1017.2,995.6 1017.6,996.6 1018.0,993.5 1018.4,992.2 1018.8,991.9 1019.2,988.7 1019.5,986.7 1019.9,985.6 1020.3,987.9 1020.7,988.0 1021.1,986.2 1021.5,989.4 1021.9,987.6 1022.2,989.2 1022.6,990.4 1023.0,991.3 1023.4,996.3 1023.8,993.6 1024.2,992.4 1024.6,997.8 1024.9,996.6 1025.3,997.5 1025.7,993.4 1026.1,1000.9 1026.5,1000.6 1026.9,999.8 1027.3,1001.0 1027.7,1002.3 1028.0,1000.2 1028.4,1002.1 1028.8,999.8 1029.2,1000.7 1029.6,1002.0 1030.0,1000.9 1030.4,998.8 1030.7,1001.5 1031.1,999.9 1031.5,999.4 1031.9,1000.9 1032.3,998.2 1032.7,996.0 1033.1,997.4 1033.4,1001.5 1033.8,995.9 1034.2,998.5 1034.6,999.3 1035.0,997.3 1035.4,993.2 1035.8,994.8 1036.1,994.4 1036.5,993.1 1036.9,988.5 1037.3,985.6 1037.7,986.5 1038.1,985.1 1038.5,984.8 1038.8,984.6 1039.2,986.8 1039.6,985.9 1040.0,988.1 1040.4,984.9 1040.8,987.5 1041.2,988.5 1041.5,988.8 1041.9,992.2 1042.3,992.6 1042.7,993.3 1043.1,996.8 1043.5,994.7 1043.9,998.4 1044.2,998.9 1044.6,999.2 1045.0,1000.5 1045.4,996.2 1045.8,995.9 1046.2,997.9 1046.6,997.4 1047.0,999.8 1047.3,997.2 1047.7,994.7 1048.1,996.8 1048.5,993.1 1048.9,992.1 1049.3,998.4 1049.7,994.6 1050.0,994.6 1050.4,992.7 1050.8,992.0 1051.2,987.4 1051.6,985.4 1052.0,978.6 1052.4,974.5 1052.7,973.8 1053.1,969.7 1053.5,962.9 1053.9,958.7 1054.3,955.3 1054.7,952.1 1055.1,955.1 1055.4,954.7 1055.8,955.2 1056.2,956.7 1056.6,958.8 1057.0,960.7 1057.4,961.9 1057.8,960.7 1058.1,963.5 1058.5,965.8 1058.9,960.1 1059.3,955.8 1059.7,952.0 1060.1,945.6 1060.5,940.7 1060.8,937.7 1061.2,946.7 1061.6,950.6 1062.0,958.2 1062.4,964.5 1062.8,966.4 1063.2,969.7 1063.5,975.7 1063.9,974.3 1064.3,978.1 1064.7,978.9 1065.1,983.2 1065.5,985.6 1065.9,989.4 1066.3,991.4 1066.6,993.2 1067.0,994.3 1067.4,993.8 1067.8,993.5 1068.2,994.1 1068.6,998.0 1069.0,998.1 1069.3,999.1 1069.7,998.6 1070.1,997.1 1070.5,998.3 1070.9,995.2 1071.3,1000.9 1071.7,998.6 1072.0,996.6 1072.4,994.8 1072.8,997.4 1073.2,994.0 1073.6,995.6 1074.0,999.7 1074.4,997.5 1074.7,996.8 1075.1,999.0 1075.5,995.8 1075.9,997.6 1076.3,995.1 1076.7,994.5 1077.1,994.7 1077.4,989.1 1077.8,990.8 1078.2,982.2 1078.6,980.7 1079.0,969.6 1079.4,966.7 1079.8,960.3 1080.1,958.6 1080.5,963.4 1080.9,968.3 1081.3,969.7 1081.7,977.1 1082.1,975.2 1082.5,976.2 1082.8,976.0 1083.2,976.9 1083.6,973.9 1084.0,981.9 1084.4,981.4 1084.8,980.9 1085.2,979.9 1085.6,979.5 1085.9,979.5 1086.3,984.6 1086.7,984.8 1087.1,985.1 1087.5,986.6 1087.9,991.6 1088.3,988.3 1088.6,986.7 1089.0,988.3 1089.4,987.5 1089.8,983.9 1090.2,980.4 1090.6,975.0 1091.0,970.3 1091.3,962.4 1091.7,954.7 1092.1,948.7 1092.5,945.6 1092.9,946.8 1093.3,953.1 1093.7,956.9 1094.0,960.6 1094.4,965.6 1094.8,965.8 1095.2,965.9 1095.6,967.5 1096.0,968.6 1096.4,972.4 1096.7,978.4 1097.1,984.2 1097.5,986.3 1097.9,991.0 1098.3,991.8 1098.7,992.1 1099.1,994.6 1099.4,998.0 1099.8,995.1 1100.2,999.4 1100.6,1000.7 1101.0,1001.1 1101.4,998.2 1101.8,1003.5 1102.1,1000.6 1102.5,999.8 1102.9,1000.4 1103.3,1001.9 1103.7,1000.4 1104.1,999.3 1104.5,1001.9 1104.9,997.9 1105.2,997.5 1105.6,1001.0 1106.0,1000.5 1106.4,1000.9 1106.8,996.4 1107.2,998.7 1107.6,997.3 1107.9,998.9 1108.3,992.4 1108.7,992.4 1109.1,989.5 1109.5,986.1 1109.9,986.2 1110.3,988.1 1110.6,985.6 1111.0,985.5 1111.4,987.6 1111.8,987.4 1112.2,986.2 1112.6,980.1 1113.0,975.9 1113.3,971.3 1113.7,961.1 1114.1,951.9 1114.5,945.8 1114.9,941.6 1115.3,937.7 1115.7,940.3 1116.0,948.3 1116.4,955.7 1116.8,961.9 1117.2,965.3 1117.6,965.0 1118.0,964.1 1118.4,967.0 1118.7,967.5 1119.1,973.9 1119.5,978.5 1119.9,989.6 1120.3,990.9 1120.7,990.8 1121.1,992.8 1121.4,994.9 1121.8,993.3 1122.2,995.9 1122.6,995.5 1123.0,998.3 1123.4,996.5 1123.8,995.9 1124.2,995.5 1124.5,995.1 1124.9,998.1 1125.3,998.5 1125.7,1000.9 1126.1,998.2 1126.5,1001.0 1126.9,999.6 1127.2,998.5 1127.6,996.3 1128.0,998.1 1128.4,1000.5 1128.8,1000.6 1129.2,998.2 1129.6,999.2 1129.9,997.7 1130.3,997.5 1130.7,997.3 1131.1,999.3 1131.5,998.3 1131.9,997.8 1132.3,998.0 1132.6,999.3 1133.0,999.2 1133.4,997.9 1133.8,1001.7 1134.2,999.5 1134.6,998.7 1135.0,1001.0 1135.3,999.6 1135.7,997.5 1136.1,998.6 1136.5,996.3 1136.9,996.6 1137.3,994.4 1137.7,999.8 1138.0,994.4 1138.4,997.4 1138.8,994.2 1139.2,992.3 1139.6,991.2 1140.0,987.3 1140.4,982.5 1140.7,977.6 1141.1,967.1 1141.5,960.4 1141.9,950.6 1142.3,947.1 1142.7,945.6 1143.1,947.2 1143.5,954.1 1143.8,959.2 1144.2,963.9 1144.6,966.5 1145.0,965.5 1145.4,965.5 1145.8,968.6 1146.2,966.9 1146.5,972.6 1146.9,980.3 1147.3,978.0 1147.7,984.7 1148.1,990.2 1148.5,990.0 1148.9,999.1 1149.2,992.3 1149.6,999.7 1150.0,999.8 1150.4,998.2 1150.8,996.4 1151.2,997.0 1151.6,994.1 1151.9,994.2 1152.3,988.7 1152.7,986.8 1153.1,983.3 1153.5,974.6 1153.9,969.6 1154.3,963.1 1154.6,955.2 1155.0,956.6 1155.4,957.7 1155.8,958.5 1156.2,965.2 1156.6,968.8 1157.0,972.3 1157.3,973.1 1157.7,971.0 1158.1,973.0 1158.5,971.5 1158.9,976.6 1159.3,977.9 1159.7,982.3 1160.0,982.6 1160.4,983.3 1160.8,982.9 1161.2,985.2 1161.6,981.3 1162.0,975.9 1162.4,963.1 1162.8,947.0 1163.1,927.7 1163.5,907.1 1163.9,887.5 1164.3,881.8 1164.7,886.7 1165.1,901.1 1165.5,919.0 1165.8,936.8 1166.2,941.7 1166.6,941.6 1167.0,940.6 1167.4,934.5 1167.8,934.1 1168.2,939.6 1168.5,946.7 1168.9,962.5 1169.3,968.9 1169.7,978.3 1170.1,983.9 1170.5,990.9 1170.9,992.3 1171.2,994.3 1171.6,992.8 1172.0,996.0 1172.4,994.6 1172.8,997.0 1173.2,997.6 1173.6,997.3 1173.9,999.8 1174.3,995.9 1174.7,993.6 1175.1,990.3 1175.5,986.7 1175.9,985.2 1176.3,982.2 1176.6,975.1 1177.0,977.7 1177.4,976.9 1177.8,980.5 1178.2,983.4 1178.6,982.6 1179.0,984.2 1179.3,989.0 1179.7,986.3 1180.1,982.9 1180.5,984.7 1180.9,985.1 1181.3,983.8 1181.7,984.6 1182.1,987.5 1182.4,991.6 1182.8,992.4 1183.2,992.9 1183.6,994.6 1184.0,996.6 1184.4,992.8 1184.8,995.8 1185.1,995.1 1185.5,995.4 1185.9,997.6 1186.3,998.2 1186.7,999.0 1187.1,999.0 1187.5,1000.6 1187.8,1005.3 1188.2,1000.0 1188.6,999.8 1189.0,1002.8 1189.4,1001.8 1189.8,1002.4 1190.2,1000.2 1190.5,1003.2 1190.9,1000.9 1191.3,999.8 1191.7,1001.4 1192.1,1001.4 1192.5,1002.7 1192.9,1003.5 1193.2,1002.0 1193.6,1003.0 1194.0,1001.5 1194.4,1002.4 1194.8,999.7 1195.2,1000.6 1195.6,1004.0 1195.9,1000.2 1196.3,1001.1 1196.7,1001.0 1197.1,1000.4 1197.5,999.4 1197.9,1001.3 1198.3,993.5 1198.6,997.5 1199.0,999.0 1199.4,994.1 1199.8,993.3 1200.2,993.1 1200.6,992.6 1201.0,986.7 1201.4,987.3 1201.7,986.5 1202.1,987.5 1202.5,988.4 1202.9,990.7 1203.3,988.8 1203.7,990.0 1204.1,987.6 1204.4,986.4 1204.8,985.8 1205.2,983.0 1205.6,978.7 1206.0,980.0 1206.4,974.7 1206.8,971.7 1207.1,975.6 1207.5,974.6 1207.9,978.9 1208.3,980.9 1208.7,983.1 1209.1,985.0 1209.5,983.9 1209.8,983.7 1210.2,986.6 1210.6,979.7 1211.0,985.0 1211.4,986.5 1211.8,985.8 1212.2,987.1 1212.5,992.6 1212.9,988.4 1213.3,991.1 1213.7,985.6 1214.1,981.8 1214.5,979.6 1214.9,978.8 1215.2,979.6 1215.6,979.4 1216.0,981.6 1216.4,983.9 1216.8,986.9 1217.2,987.2 1217.6,984.5 1217.9,984.3 1218.3,986.0 1218.7,985.4 1219.1,987.1 1219.5,987.4 1219.9,990.1 1220.3,993.3 1220.7,995.5 1221.0,993.0 1221.4,996.2 1221.8,992.5 1222.2,997.7 1222.6,995.7 1223.0,995.2 1223.4,994.0 1223.7,990.2 1224.1,994.8 1224.5,996.1 1224.9,999.7 1225.3,994.8 1225.7,999.8 1226.1,995.1 1226.4,997.1 1226.8,993.0 1227.2,997.7 1227.6,997.1 1228.0,999.8 1228.4,999.2 1228.8,997.3 1229.1,1000.8 1229.5,1001.4 1229.9,1001.7 1230.3,1002.0 1230.7,1003.2 1231.1,1001.5 1231.5,999.9 1231.8,998.8 1232.2,1003.5 1232.6,1002.4 1233.0,1002.1 1233.4,1001.3 1233.8,1002.5 1234.2,1002.8 1234.5,1002.1 1234.9,1001.1 1235.3,1006.3 1235.7,1002.8 1236.1,1000.8 1236.5,999.2 1236.9,999.9 1237.2,1001.4 1237.6,1000.7 1238.0,998.7 1238.4,999.6 1238.8,999.2 1239.2,998.5 1239.6,1002.3 1240.0,1000.1 1240.3,1003.2 1240.7,997.1 1241.1,997.3 1241.5,998.1 1241.9,994.0 1242.3,990.1 1242.7,987.7 1243.0,988.1 1243.4,987.0 1243.8,983.8 1244.2,985.8 1244.6,985.3 1245.0,985.7 1245.4,986.4 1245.7,987.0 1246.1,990.0 1246.5,990.4 1246.9,988.9 1247.3,990.0 1247.7,988.6 1248.1,988.6 1248.4,989.7 1248.8,993.8 1249.2,995.3 1249.6,997.2 1250.0,996.0 1250.4,999.1 1250.8,1000.8 1251.1,1000.8 1251.5,997.9 1251.9,999.0 1252.3,1000.0 1252.7,998.2 1253.1,1001.8 1253.5,1003.4 1253.8,1000.4 1254.2,1004.0 1254.6,1001.0 1255.0,1000.7 1255.4,1000.9 1255.8,1000.3 1256.2,1001.6 1256.5,1000.0 1256.9,1002.4 1257.3,1000.3 1257.7,1000.1 1258.1,998.4 1258.5,997.3 1258.9,999.0 1259.3,998.4 1259.6,1001.6 1260.0,1000.3 1260.4,1002.7 1260.8,1001.6 1261.2,1001.7 1261.6,1001.4 1262.0,1001.4 1262.3,1002.5 1262.7,1002.8 1263.1,999.8 1263.5,1001.9 1263.9,1005.1 1264.3,1000.4 1264.7,1000.4 1265.0,998.0 1265.4,996.3 1265.8,999.3 1266.2,996.4 1266.6,996.6 1267.0,997.9 1267.4,997.6 1267.7,991.5 1268.1,993.0 1268.5,991.7 1268.9,990.0 1269.3,990.3 1269.7,989.6 1270.1,991.1 1270.4,989.7 1270.8,990.2 1271.2,992.2 1271.6,991.9 1272.0,992.6 1272.4,992.9 1272.8,996.0 1273.1,995.1 1273.5,994.8 1273.9,994.5 1274.3,995.9 1274.7,995.6 1275.1,998.1 1275.5,998.3 1275.8,995.1 1276.2,998.4 1276.6,999.2 1277.0,999.1 1277.4,996.9 1277.8,999.9 1278.2,996.4 1278.6,995.5 1278.9,995.0 1279.3,996.1 1279.7,995.1 1280.1,991.2 1280.5,986.3 1280.9,979.9 1281.3,973.9 1281.6,966.2 1282.0,960.7 1282.4,953.7 1282.8,955.4 1283.2,959.7 1283.6,964.3 1284.0,970.5 1284.3,972.4 1284.7,975.0 1285.1,978.1 1285.5,980.5 1285.9,978.9 1286.3,974.7 1286.7,977.0 1287.0,975.5 1287.4,980.8 1287.8,980.9 1288.2,982.4 1288.6,987.3 1289.0,987.2 1289.4,989.0 1289.7,989.5 1290.1,993.6 1290.5,994.5 1290.9,994.5 1291.3,995.2 1291.7,998.6 1292.1,995.8 1292.4,995.7 1292.8,998.1 1293.2,998.9 1293.6,996.6 1294.0,992.4 1294.4,992.2 1294.8,991.3 1295.1,986.1 1295.5,982.6 1295.9,970.5 1296.3,966.6 1296.7,958.1 1297.1,956.0 1297.5,953.0 1297.9,958.9 1298.2,961.3 1298.6,965.9 1299.0,970.6 1299.4,974.9 1299.8,975.7 1300.2,978.0 1300.6,976.3 1300.9,974.2 1301.3,972.0 1301.7,976.4 1302.1,979.1 1302.5,986.7 1302.9,989.2 1303.3,992.9 1303.6,994.0 1304.0,994.7 1304.4,996.9 1304.8,997.3 1305.2,1000.8 1305.6,1000.7 1306.0,1000.2 1306.3,1000.5 1306.7,1003.6 1307.1,1000.2 1307.5,999.9 1307.9,1001.0 1308.3,999.6 1308.7,998.9 1309.0,999.3 1309.4,999.3 1309.8,993.1 1310.2,993.6 1310.6,990.9 1311.0,987.1 1311.4,983.8 1311.7,980.1 1312.1,979.0 1312.5,975.7 1312.9,977.8 1313.3,979.8 1313.7,982.4 1314.1,985.3 1314.4,989.9 1314.8,989.6 1315.2,989.7 1315.6,989.5 1316.0,987.4 1316.4,986.6 1316.8,986.4 1317.2,990.8 1317.5,991.2 1317.9,993.3 1318.3,997.0 1318.7,999.2 1319.1,996.4 1319.5,1002.3 1319.9,1000.5 1320.2,1000.9 1320.6,1002.8 1321.0,1001.3 1321.4,999.8 1321.8,1004.2 1322.2,999.3 1322.6,1000.8 1322.9,1002.4 1323.3,999.2 1323.7,1001.0 1324.1,1000.7 1324.5,1003.8 1324.9,999.0 1325.3,1000.4 1325.6,1001.7 1326.0,1000.4 1326.4,997.5 1326.8,998.0 1327.2,995.8 1327.6,994.7 1328.0,991.8 1328.3,985.9 1328.7,978.7 1329.1,971.8 1329.5,963.8 1329.9,962.4 1330.3,964.1 1330.7,966.0 1331.0,971.3 1331.4,975.0 1331.8,982.4 1332.2,984.6 1332.6,981.4 1333.0,981.0 1333.4,979.5 1333.7,981.2 1334.1,981.0 1334.5,982.5 1334.9,984.4 1335.3,988.5 1335.7,991.0 1336.1,996.1 1336.5,997.1 1336.8,1000.1 1337.2,1000.4 1337.6,1001.9 1338.0,999.8 1338.4,1002.0 1338.8,998.5 1339.2,1000.8 1339.5,1000.0 1339.9,1000.7 1340.3,999.7 1340.7,1000.8 1341.1,997.0 1341.5,1001.6 1341.9,999.2 1342.2,1004.6 1342.6,999.8 1343.0,1000.9 1343.4,999.1 1343.8,1004.2 1344.2,998.8 1344.6,1000.3 1344.9,998.8 1345.3,996.9 1345.7,998.8 1346.1,999.2 1346.5,997.6 1346.9,998.2 1347.3,995.0 1347.6,994.0 1348.0,990.7 1348.4,990.1 1348.8,989.8 1349.2,986.0 1349.6,986.4 1350.0,985.6 1350.3,987.2 1350.7,991.4 1351.1,988.7 1351.5,989.5 1351.9,991.2 1352.3,991.1 1352.7,994.6 1353.0,987.0 1353.4,992.4 1353.8,992.9 1354.2,991.0 1354.6,992.1 1355.0,996.2 1355.4,999.1 1355.8,996.9 1356.1,996.7 1356.5,1002.3 1356.9,1002.8 1357.3,1001.1 1357.7,998.4 1358.1,1004.3 1358.5,1001.5 1358.8,1003.4 1359.2,1001.1 1359.6,1001.6 1360.0,1001.0 1360.4,1004.9 1360.8,1004.8 1361.2,999.2 1361.5,1001.9 1361.9,1006.4 1362.3,1003.5 1362.7,1002.3 1363.1,1004.5 1363.5,1005.3 1363.9,1004.9 1364.2,1003.9 1364.6,1003.8 1365.0,1002.6 1365.4,1003.2 1365.8,1000.9 1366.2,1000.8 1366.6,1000.0 1366.9,1000.5 1367.3,997.8 1367.7,996.5 1368.1,998.5 1368.5,998.1 1368.9,999.8 1369.3,999.6 1369.6,1002.2 1370.0,1002.2 1370.4,1000.6 1370.8,1000.0 1371.2,1001.0 1371.6,998.7 1372.0,997.2 1372.3,993.7 1372.7,991.8 1373.1,993.9 1373.5,993.0 1373.9,992.9 1374.3,990.0 1374.7,995.1 1375.1,992.9 1375.4,996.3 1375.8,997.8 1376.2,996.3 1376.6,996.7 1377.0,993.7 1377.4,993.4 1377.8,990.4 1378.1,991.7 1378.5,989.8 1378.9,989.1 1379.3,985.9 1379.7,983.4 1380.1,985.0 1380.5,983.5 1380.8,987.2 1381.2,988.0 1381.6,988.6 1382.0,992.4 1382.4,993.8 1382.8,994.5 1383.2,996.3 1383.5,997.3 1383.9,994.3 1384.3,994.8 1384.7,993.0 1385.1,996.5 1385.5,997.5 1385.9,996.3 1386.2,1001.5 1386.6,1004.1 1387.0,1003.6 1387.4,1005.1 1387.8,1004.1 1388.2,1007.0 1388.6,1003.9 1388.9,1005.9 1389.3,1009.5 1389.7,1006.6 1390.1,1006.9 1390.5,1005.8 1390.9,1004.9 1391.3,1007.0 1391.6,1007.4 1392.0,1005.9 1392.4,1008.1 1392.8,1009.9 1393.2,1010.4 1393.6,1006.2 1394.0,1007.0 1394.4,1005.5 1394.7,1009.3 1395.1,1009.7 1395.5,1010.0 1395.9,1006.8 1396.3,1006.3 1396.7,1007.6 1397.1,1008.5 1397.4,1007.1 1397.8,1008.8 1398.2,1010.1 1398.6,1008.8 1399.0,1006.4 1399.4,1005.4 1399.8,1008.1 1400.1,1009.2 1400.5,1007.7 1400.9,1007.4 1401.3,1007.0 1401.7,1009.0 1402.1,1008.0 1402.5,1007.7 1402.8,1006.0 1403.2,1006.2 1403.6,1007.5 1404.0,1005.9 1404.4,1005.6 1404.8,1007.3 1405.2,1009.2 1405.5,1007.5 1405.9,1009.8 1406.3,1007.3 1406.7,1007.3 1407.1,1005.7 1407.5,1007.5 1407.9,1011.4 1408.2,1009.5 1408.6,1010.6 1409.0,1010.1 1409.4,1009.6 1409.8,1010.0 1410.2,1010.6 1410.6,1010.9 1410.9,1010.3 1411.3,1009.6 1411.7,1008.9 1412.1,1007.3 1412.5,1007.1 1412.9,1005.4 1413.3,1008.1 1413.7,1003.0 1414.0,1005.2 1414.4,1009.0 1414.8,1003.7 1415.2,1003.0 1415.6,1005.0 1416.0,1007.5 1416.4,1005.6 1416.7,1006.0 1417.1,1005.3 1417.5,1005.5 1417.9,1010.6 1418.3,1006.8 1418.7,1004.6 1419.1,1005.2 1419.4,1007.2 1419.8,1006.6 1420.2,1006.9 1420.6,1006.4 1421.0,1004.7 1421.4,1007.9 1421.8,1007.1 1422.1,1007.9 1422.5,1005.5 1422.9,1007.1 1423.3,1007.3 1423.7,1009.8 1424.1,1007.1 1424.5,1008.3 1424.8,1009.8 1425.2,1007.7 1425.6,1008.0 1426.0,1007.7 1426.4,1010.2 1426.8,1004.9 1427.2,1008.0 1427.5,1006.0 1427.9,1008.4 1428.3,1009.3 1428.7,1006.9 1429.1,1008.5 1429.5,1008.0 1429.9,1012.3 1430.2,1010.9 1430.6,1011.0 1431.0,1006.6 1431.4,1007.6 1431.8,1011.1 1432.2,1008.1 1432.6,1007.5 1433.0,1007.3 1433.3,1003.9 1433.7,1006.4 1434.1,1004.3 1434.5,1003.9 1434.9,1000.7 1435.3,1001.7 1435.7,999.0 1436.0,1000.6 1436.4,1000.5 1436.8,1001.1 1437.2,999.8 1437.6,1000.3 1438.0,995.9 1438.4,1001.6 1438.7,999.1 1439.1,1000.2 1439.5,999.7 1439.9,997.1 1440.3,998.1 1440.7,999.7 1441.1,1000.5 1441.4,997.0 1441.8,996.0 1442.2,999.7 1442.6,995.3 1443.0,999.1 1443.4,995.6 1443.8,992.6 1444.1,995.5 1444.5,996.2 1444.9,991.8 1445.3,997.4 1445.7,996.3 1446.1,1000.2 1446.5,998.4 1446.8,997.5 1447.2,1002.2 1447.6,1003.3 1448.0,1005.5 1448.4,1004.4 1448.8,1003.2 1449.2,1001.3 1449.5,1000.6 1449.9,1001.1 1450.3,999.3 1450.7,1000.6 1451.1,996.5 1451.5,1000.9 1451.9,1001.5 1452.3,1005.0 1452.6,1002.8 1453.0,1001.8 1453.4,1003.8 1453.8,1001.7 1454.2,1002.4 1454.6,1000.6 1455.0,1006.9 1455.3,1005.6 1455.7,1003.3 1456.1,1004.2 1456.5,1005.5 1456.9,1005.3 1457.3,1004.8 1457.7,1002.6 1458.0,1002.8 1458.4,1003.6 1458.8,1004.8 1459.2,1003.3 1459.6,1003.3 1460.0,1006.8 1460.4,1003.0 1460.7,1007.5 1461.1,1006.3 1461.5,1008.7 1461.9,1010.3 1462.3,1008.6 1462.7,1007.7 1463.1,1005.6 1463.4,1007.0 1463.8,1009.3 1464.2,1010.7 1464.6,1012.0 1465.0,1013.2 1465.4,1010.1 1465.8,1009.9 1466.1,1011.8 1466.5,1010.0 1466.9,1009.2 1467.3,1007.8 1467.7,1010.3 1468.1,1005.9 1468.5,1008.4 1468.8,1005.8 1469.2,1010.1 1469.6,1006.5 1470.0,1009.8 1470.4,1006.5 1470.8,1008.3 1471.2,1011.3 1471.6,1009.0 1471.9,1011.0 1472.3,1009.5 1472.7,1007.0 1473.1,1011.5 1473.5,1011.9 1473.9,1008.9 1474.3,1012.2 1474.6,1010.6 1475.0,1009.6 1475.4,1011.5 1475.8,1011.1 1476.2,1015.2 1476.6,1010.0 1477.0,1012.7 1477.3,1013.0 1477.7,1007.9 1478.1,1008.4 1478.5,1012.7 1478.9,1010.6 1479.3,1012.2 1479.7,1014.1 1480.0,1011.5 1480.4,1012.0 1480.8,1009.9 1481.2,1013.5 1481.6,1011.3 1482.0,1012.5 1482.4,1012.4 1482.7,1009.4 1483.1,1013.6 1483.5,1011.5 1483.9,1009.8 1484.3,1006.3 1484.7,1007.4 1485.1,1007.6 1485.4,1008.0 1485.8,1006.4 1486.2,1008.5 1486.6,1007.6 1487.0,1007.4 1487.4,1005.6 1487.8,1008.0 1488.1,1006.6 1488.5,1000.8 1488.9,1003.5 1489.3,1005.2 1489.7,1007.5 1490.1,1006.5 1490.5,1006.5 1490.9,1005.7 1491.2,1007.0 1491.6,1005.8 1492.0,1005.8 1492.4,1005.4 1492.8,1006.5 1493.2,1005.5 1493.6,1004.3 1493.9,1008.4 1494.3,1007.0 1494.7,1009.5 1495.1,1008.9 1495.5,1010.7 1495.9,1012.3 1496.3,1011.0 1496.6,1010.9 1497.0,1008.7 1497.4,1014.2 1497.8,1012.9 1498.2,1014.4 1498.6,1011.7 1499.0,1009.8 1499.3,1014.6 1499.7,1012.4 1500.1,1012.6 1500.5,1013.4 1500.9,1014.0 1501.3,1013.7 1501.7,1011.7 1502.0,1017.2 1502.4,1013.7 1502.8,1014.1 1503.2,1016.7 1503.6,1014.7 1504.0,1012.4 1504.4,1010.9 1504.7,1014.2 1505.1,1013.7 1505.5,1012.6 1505.9,1011.3 1506.3,1011.5 1506.7,1010.0 1507.1,1013.4 1507.4,1014.5 1507.8,1014.4 1508.2,1010.6 1508.6,1012.0 1509.0,1012.6 1509.4,1011.0 1509.8,1012.0 1510.2,1016.6 1510.5,1013.3 1510.9,1013.8 1511.3,1011.4 1511.7,1012.5 1512.1,1010.5 1512.5,1012.5 1512.9,1014.5 1513.2,1016.1 1513.6,1014.4 1514.0,1014.2 1514.4,1013.0 1514.8,1012.3 1515.2,1013.8 1515.6,1015.5 1515.9,1012.5 1516.3,1015.2 1516.7,1012.4 1517.1,1012.1 1517.5,1011.5 1517.9,1010.6 1518.3,1010.7 1518.6,1013.9 1519.0,1011.6 1519.4,1012.7 1519.8,1014.1 1520.2,1013.6 1520.6,1009.3 1521.0,1012.4 1521.3,1010.6 1521.7,1009.8 1522.1,1010.8 1522.5,1007.0 1522.9,1008.6 1523.3,1008.5 1523.7,1008.3 1524.0,1007.4 1524.4,1008.7 1524.8,1010.7 1525.2,1011.1 1525.6,1010.0 1526.0,1011.8 1526.4,1008.8 1526.7,1009.4 1527.1,1011.4 1527.5,1011.5 1527.9,1011.0 1528.3,1015.0 1528.7,1013.3 1529.1,1012.6 1529.5,1013.8 1529.8,1016.5 1530.2,1014.6 1530.6,1017.1 1531.0,1014.1 1531.4,1013.9 1531.8,1013.3 1532.2,1013.4 1532.5,1016.4 1532.9,1011.7 1533.3,1015.8 1533.7,1010.7 1534.1,1011.5 1534.5,1012.5 1534.9,1012.2 1535.2,1011.5 1535.6,1008.5 1536.0,1011.0 1536.4,1008.0 1536.8,1013.8 1537.2,1009.4 1537.6,1009.8 1537.9,1007.4 1538.3,1008.8 1538.7,1007.0 1539.1,1010.8 1539.5,1009.5 1539.9,1012.4 1540.3,1010.5 1540.6,1011.3 1541.0,1013.8 1541.4,1011.2 1541.8,1010.0 1542.2,1014.3 1542.6,1012.1 1543.0,1012.8 1543.3,1014.0 1543.7,1011.4 1544.1,1014.4 1544.5,1012.1 1544.9,1015.4 1545.3,1014.8 1545.7,1012.1 1546.0,1012.3 1546.4,1011.8 1546.8,1014.1 1547.2,1015.5 1547.6,1010.3 1548.0,1014.7 1548.4,1010.6 1548.8,1010.5 1549.1,1008.7 1549.5,1013.7 1549.9,1010.0 1550.3,1010.0 1550.7,1007.3 1551.1,1010.3 1551.5,1004.3 1551.8,1007.1 1552.2,1009.6 1552.6,1004.8 1553.0,1005.5 1553.4,1006.0 1553.8,1002.8 1554.2,1004.9 1554.5,1006.4 1554.9,1005.6 1555.3,1006.7 1555.7,1006.7 1556.1,1008.3 1556.5,1008.2 1556.9,1010.6 1557.2,1009.4 1557.6,1007.9 1558.0,1005.0 1558.4,1009.8 1558.8,1009.9 1559.2,1007.8 1559.6,1005.6 1559.9,1007.5 1560.3,1011.5 1560.7,1008.9 1561.1,1009.2 1561.5,1010.2 1561.9,1011.9 1562.3,1010.7 1562.6,1010.6 1563.0,1010.6 1563.4,1013.7 1563.8,1012.5 1564.2,1010.8 1564.6,1009.3 1565.0,1010.3 1565.3,1012.5 1565.7,1010.3 1566.1,1012.5 1566.5,1011.7 1566.9,1011.6 1567.3,1011.5 1567.7,1012.3 1568.1,1009.6 1568.4,1011.0 1568.8,1014.8 1569.2,1008.4 1569.6,1010.7 1570.0,1011.7 1570.4,1008.8 1570.8,1008.2 1571.1,1006.0 1571.5,1008.9 1571.9,1008.6 1572.3,1009.3 1572.7,1007.6 1573.1,1009.5 1573.5,1007.9 1573.8,1011.2 1574.2,1010.5 1574.6,1013.2 1575.0,1014.4" fill="none" stroke="#000" stroke-width="5.0" stroke-linejoin="round" stroke-linecap="round" shape-rendering="crispEdges"/>
<g stroke="#f00" stroke-width="5" stroke-linecap="butt" fill="none" shape-rendering="crispEdges">
<line x1="367.5" y1="1166.1" x2="367.5" y2="1181"/>
<line x1="415.3" y1="1178.2" x2="415.3" y2="1181"/>
<line x1="434.6" y1="1092.1" x2="434.6" y2="1181"/>
<line x1="442.5" y1="1136.5" x2="442.5" y2="1181"/>
<line x1="493.6" y1="1018.7" x2="493.6" y2="1181"/>
<line x1="542.6" y1="989.3" x2="542.6" y2="1181"/>
<line x1="583.5" y1="1062.3" x2="583.5" y2="1181"/>
<line x1="598.5" y1="900.5" x2="598.5" y2="1181"/>
<line x1="604.5" y1="989.3" x2="604.5" y2="1181"/>
<line x1="639.7" y1="989.3" x2="639.7" y2="1181"/>
<line x1="644.4" y1="959.5" x2="644.4" y2="1181"/>
<line x1="650.4" y1="1018.7" x2="650.4" y2="1181"/>
<line x1="662.5" y1="974.4" x2="662.5" y2="1181"/>
<line x1="720.5" y1="1062.3" x2="720.5" y2="1181"/>
<line x1="767.5" y1="1148.0" x2="767.5" y2="1181"/>
<line x1="772.5" y1="1062.3" x2="772.5" y2="1181"/>
<line x1="776.6" y1="1148.0" x2="776.6" y2="1181"/>
<line x1="787.5" y1="1148.0" x2="787.5" y2="1181"/>
<line x1="811.4" y1="1148.0" x2="811.4" y2="1181"/>
<line x1="826.4" y1="1136.5" x2="826.4" y2="1181"/>
<line x1="856.5" y1="1154.1" x2="856.5" y2="1181"/>
<line x1="875.4" y1="1148.0" x2="875.4" y2="1181"/>
<line x1="953.3" y1="1160.0" x2="953.3" y2="1181"/>
<line x1="962.4" y1="1136.5" x2="962.4" y2="1181"/>
<line x1="980.3" y1="1178.2" x2="980.3" y2="1181"/>
<line x1="1055.4" y1="1154.1" x2="1055.4" y2="1181"/>
<line x1="1061.4" y1="1166.1" x2="1061.4" y2="1181"/>
<line x1="1081.6" y1="1172.3" x2="1081.6" y2="1181"/>
<line x1="1093.5" y1="1173.0" x2="1093.5" y2="1181"/>
<line x1="1115.5" y1="1160.0" x2="1115.5" y2="1181"/>
<line x1="1142.4" y1="1166.1" x2="1142.4" y2="1181"/>
<line x1="1154.3" y1="1166.1" x2="1154.3" y2="1181"/>
<line x1="1164.5" y1="1154.1" x2="1164.5" y2="1181"/>
<line x1="1245.4" y1="1178.2" x2="1245.4" y2="1181"/>
</g>
<g stroke="#000" stroke-width="5" fill="none">
<line x1="127.5" y1="1160" x2="127.5" y2="1182"/>
<line x1="320.5" y1="1160" x2="320.5" y2="1182"/>
<line x1="513.5" y1="1160" x2="513.5" y2="1182"/>
<line x1="706.5" y1="1160" x2="706.5" y2="1182"/>
<line x1="899.5" y1="1160" x2="899.5" y2="1182"/>
<line x1="1092.5" y1="1160" x2="1092.5" y2="1182"/>
<line x1="1285.5" y1="1160" x2="1285.5" y2="1182"/>
<line x1="1478.5" y1="1160" x2="1478.5" y2="1182"/>
</g>
<g fill="#000"><rect x="9" y="14" width="5" height="1172"/><rect x="9" y="14" width="1588" height="5"/><rect x="1592" y="14" width="5" height="1172"/><rect x="9" y="1180" width="1588" height="6"/></g>
<g class="lb">
<text transform="translate(596.2,187.9) scale(0.72,1)" x="0" y="0">1</text>
<text transform="translate(539.3,326.2) scale(0.72,1)" x="0" y="0">1</text>
<text transform="translate(659.2,286.9) scale(0.72,1)" x="0" y="0">1</text>
<text transform="translate(639.3,387.2) scale(0.72,1)" x="0" y="0">1</text>
<text transform="translate(611.9,426.7) scale(0.72,1)" x="0" y="0">1</text>
<text transform="translate(488.8,497.1) scale(0.72,1)" x="0" y="0">1</text>
<text transform="translate(427.3,712.7) scale(0.72,1)" x="0" y="0">1</text>
<text transform="translate(450.9,792.8) scale(0.72,1)" x="0" y="0">1</text>
<text transform="translate(577.1,615) scale(0.72,1)" x="0" y="0">1</text>
<text transform="translate(630.0,612) scale(0.72,1)" x="0" y="0">1</text>
<text transform="translate(651.7,587.6) scale(0.72,1)" x="0" y="0">1</text>
<text transform="translate(718.1,618.1) scale(0.72,1)" x="0" y="0">1</text>
<text transform="translate(768.0,641.1) scale(0.72,1)" x="0" y="0">1</text>
<text transform="translate(362.2,877) scale(0.72,1)" x="0" y="0">1</text>
<text transform="translate(408.0,940.1) scale(0.72,1)" x="0" y="0">1</text>
<text transform="translate(756.1,898.2) scale(0.72,1)" x="0" y="0">1</text>
<text transform="translate(780.7,855.7) scale(0.72,1)" x="0" y="0">1</text>
<text transform="translate(790.9,887) scale(0.72,1)" x="0" y="0">1</text>
<text transform="translate(808.2,877.9) scale(0.72,1)" x="0" y="0">1</text>
<text transform="translate(823.9,818.7) scale(0.72,1)" x="0" y="0">1</text>
<text transform="translate(853.4,876.8) scale(0.72,1)" x="0" y="0">1</text>
<text transform="translate(873.2,894.8) scale(0.72,1)" x="0" y="0">1</text>
<text transform="translate(961.2,810.7) scale(0.72,1)" x="0" y="0">1</text>
<text transform="translate(944.1,939) scale(0.72,1)" x="0" y="0">1</text>
<text transform="translate(980.0,948.1) scale(0.72,1)" x="0" y="0">1</text>
<text transform="translate(1042.0,939.6) scale(0.72,1)" x="0" y="0">1</text>
<text transform="translate(1058.9,917.8) scale(0.72,1)" x="0" y="0">1</text>
<text transform="translate(1078.8,948.7) scale(0.72,1)" x="0" y="0">1</text>
<text transform="translate(1090.0,931.9) scale(0.72,1)" x="0" y="0">1</text>
<text transform="translate(1111.0,922.8) scale(0.72,1)" x="0" y="0">1</text>
<text transform="translate(1136.0,928.7) scale(0.72,1)" x="0" y="0">1</text>
<text transform="translate(1152.0,948.7) scale(0.72,1)" x="0" y="0">1</text>
<text transform="translate(1162.4,867.7) scale(0.72,1)" x="0" y="0">1</text>
<text transform="translate(1244.0,970.1) scale(0.72,1)" x="0" y="0">1</text>
<text transform="translate(1283.3,935.2) scale(1.08,1)" x="0" y="0">2</text>
<text transform="translate(1306,935.6) scale(1.08,1)" x="0" y="0">2</text>
<text transform="translate(1329,945.8) scale(1.08,1)" x="0" y="0">2</text>
<text transform="translate(1378.2,968) scale(1.08,1)" x="0" y="0">2</text>
</g>
<g class="tk">
<text x="120.2" y="1250.8">10</text>
<text x="313.2" y="1250.8">20</text>
<text x="506.2" y="1250.8">30</text>
<text x="699.2" y="1250.8">40</text>
<text x="892.2" y="1250.8">50</text>
<text x="1085.2" y="1250.8">60</text>
<text x="1278.2" y="1250.8">70</text>
<text x="1471.2" y="1250.8">80</text>
</g>
<text x="1212.0" y="148.5" font-size="49.6">1—Argentite</text>
<text x="1213.0" y="224.2" font-size="49.6">2—Stromeyerite</text>
<text x="1151.8" y="1105.7" font-size="49.5" fill="#f00" xml:space="preserve">PDF  14-0072</text>
<text x="665.8" y="1337.8" dx="0 0.9 0.9" font-size="61">Two—Theta</text>
</svg></body></html>
